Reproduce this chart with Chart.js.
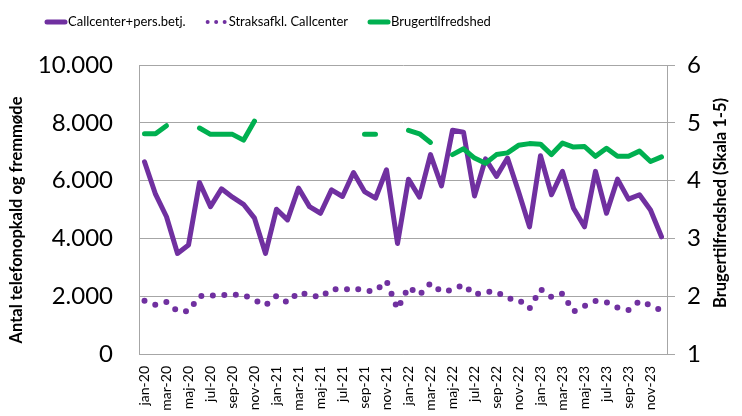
<!DOCTYPE html>
<html>
<head>
<meta charset="utf-8">
<script src="https://cdn.jsdelivr.net/npm/chart.js@4.4.1/dist/chart.umd.min.js"></script>
<style>
  html, body { margin: 0; padding: 0; background: #fff; }
</style>
</head>
<body>
<canvas id="chart" width="742" height="416"></canvas>
<script>
// Months jan-20 .. dec-23
const monthNames = ["jan", "feb", "mar", "apr", "maj", "jun", "jul", "aug", "sep", "okt", "nov", "dec"];
const years = ["20", "21", "22", "23"];
const months = [];
years.forEach(y => monthNames.forEach(m => months.push(m + "-" + y)));

// Callcenter + personlig betjening (left axis)
const callcenter = [6650, 5530, 4750, 3480, 3770, 5935, 5100, 5715, 5425, 5180, 4700, 3480,
                    5010, 4640, 5740, 5100, 4870, 5680, 5450, 6280, 5620, 5390, 6375, 3825,
                    6050, 5425, 6900, 5820, 7745, 7675, 5470, 6750, 6145, 6780, 5620, 4400,
                    6860, 5510, 6320, 5045, 4400, 6320, 4870, 6050, 5360, 5510, 4985, 4055];

// Straksafklaret i callcenter (left axis)
const straks = [1845, 1700, 1800, 1480, 1480, 2000, 2020, 2040, 2060, 2040, 1870, 1680,
                2010, 1780, 2130, 2050, 1955, 2250, 2215, 2280, 2180, 2180, 2525, 1560,
                2320, 2040, 2450, 2160, 2215, 2400, 2050, 2150, 2150, 1920, 1880, 1570,
                2240, 1970, 2090, 1470, 1660, 1830, 1790, 1610, 1520, 1830, 1680, 1500];

// Brugertilfredshed, skala 1-5 (right axis)
const tilfredshed = [4.81, 4.81, 4.95, null, null, 4.91, 4.80, 4.80, 4.80, 4.70, 5.03, null,
                     null, null, null, null, null, null, null, null, 4.80, 4.80, null, null,
                     4.87, 4.81, 4.66, null, 4.45, 4.55, 4.39, 4.30, 4.45, 4.48, 4.61, 4.64,
                     4.63, 4.45, 4.65, 4.58, 4.59, 4.42, 4.56, 4.42, 4.42, 4.51, 4.33, 4.41];

const leftTicks = [0, 2000, 4000, 6000, 8000, 10000];
const rightTicks = [1, 2, 3, 4, 5, 6];

const purple = "#7030A0";
const green = "#00B050";
const gridColor = "#A6A6A6";
const fontFamily = "Lato, 'Open Sans', sans-serif";

Chart.defaults.color = "#000";
Chart.defaults.font.family = fontFamily;

// legend drawn by hand so it can sit where Excel put it
const legendItems = [
  { text: "Callcenter+pers.betj.", color: purple, dash: [], width: 5 },
  { text: "Straksafkl. Callcenter", color: purple, dash: [0, 8.5], width: 4 },
  { text: "Brugertilfredshed", color: green, dash: [], width: 5 }
];

const legendPlugin = {
  id: "topLegend",
  afterDraw(chart) {
    const ctx = chart.ctx;
    ctx.save();
    ctx.font = "13px " + fontFamily;
    ctx.textBaseline = "middle";
    let x = 46;
    const y = 22;
    legendItems.forEach(item => {
      ctx.beginPath();
      ctx.strokeStyle = item.color;
      ctx.lineWidth = item.width;
      ctx.lineCap = "round";
      ctx.setLineDash(item.dash);
      ctx.moveTo(x + 1, y);
      ctx.lineTo(x + 19, y);
      ctx.stroke();
      ctx.setLineDash([]);
      ctx.fillStyle = "#000";
      ctx.fillText(item.text, x + 22, y);
      x += 22 + ctx.measureText(item.text).width + 21;
    });
    ctx.restore();
  }
};

// both axis titles read bottom-to-top, as in Excel
const axisTitles = [
  { text: "Antal telefonopkald og fremmøde", x: 17, y: 220 },
  { text: "Brugertilfredshed (Skala 1-5)", x: 721, y: 203 }
];

const axisTitlePlugin = {
  id: "axisTitles",
  afterDraw(chart) {
    const ctx = chart.ctx;
    ctx.save();
    ctx.font = "bold 16.5px " + fontFamily;
    ctx.fillStyle = "#000";
    ctx.textAlign = "center";
    ctx.textBaseline = "middle";
    axisTitles.forEach(t => {
      ctx.save();
      ctx.translate(t.x, t.y);
      ctx.rotate(-Math.PI / 2);
      ctx.fillText(t.text, 0, 0);
      ctx.restore();
    });
    ctx.restore();
  }
};

new Chart(document.getElementById("chart"), {
  type: "line",
  data: {
    labels: months,
    datasets: [
      {
        label: "Callcenter+pers.betj.",
        data: callcenter,
        yAxisID: "y",
        borderColor: purple,
        borderWidth: 5,
        borderJoinStyle: "round",
        borderCapStyle: "round",
        pointRadius: 0,
        tension: 0,
        order: 2
      },
      {
        label: "Straksafkl. Callcenter",
        data: straks,
        yAxisID: "y",
        borderColor: purple,
        borderWidth: 6,
        borderDash: [0, 11.5],
        borderCapStyle: "round",
        borderJoinStyle: "round",
        pointRadius: 0,
        tension: 0,
        order: 1
      },
      {
        label: "Brugertilfredshed",
        data: tilfredshed,
        yAxisID: "y1",
        borderColor: green,
        borderWidth: 5,
        borderJoinStyle: "round",
        borderCapStyle: "round",
        pointRadius: 0,
        tension: 0,
        spanGaps: false,
        order: 0
      }
    ]
  },
  options: {
    responsive: false,
    animation: false,
    layout: { padding: { top: 65, left: 0, right: 0, bottom: 0 } },
    plugins: {
      legend: { display: false },
      tooltip: { enabled: false }
    },
    scales: {
      x: {
        offset: true,
        grid: { display: false },
        border: { display: true, color: gridColor },
        ticks: {
          autoSkip: false,
          maxRotation: 90,
          minRotation: 90,
          padding: 4,
          font: { size: 14 },
          callback: function (val, i) { return i % 2 === 0 ? months[i] : ""; }
        },
        afterFit: scale => { scale.height = 62; }
      },
      y: {
        position: "left",
        min: 0,
        max: 10000,
        afterBuildTicks: scale => { scale.ticks = leftTicks.map(v => ({ value: v })); },
        grid: { color: gridColor, drawTicks: false },
        border: { display: true, color: gridColor },
        ticks: {
          padding: 26,
          font: { size: 24 },
          callback: v => v.toLocaleString("da-DK")
        },
        afterFit: scale => { scale.width = 139; }
      },
      y1: {
        position: "right",
        min: 1,
        max: 6,
        afterBuildTicks: scale => { scale.ticks = rightTicks.map(v => ({ value: v })); },
        grid: { drawOnChartArea: false, color: gridColor, tickLength: 8 },
        border: { display: true, color: gridColor },
        ticks: { padding: 12, font: { size: 24 } },
        afterFit: scale => { scale.width = 75; }
      }
    }
  },
  plugins: [legendPlugin, axisTitlePlugin]
});
</script>
</body>
</html>
